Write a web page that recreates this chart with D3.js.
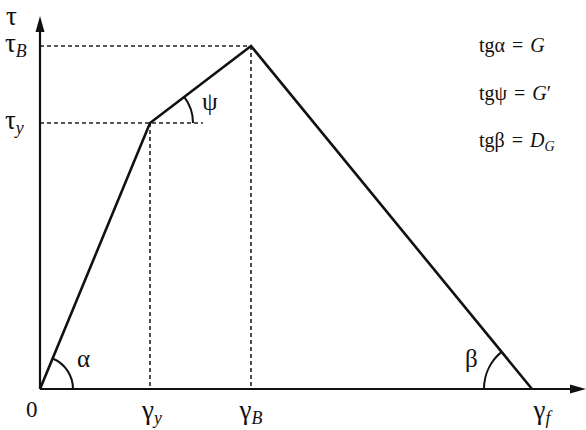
<!DOCTYPE html>
<html>
<head>
<meta charset="utf-8">
<script src="https://cdn.jsdelivr.net/npm/d3@7"></script>
</head>
<body style="margin:0">
<script>
// Strain coordinates of the characteristic points
const gammaPoints = [0, 1.10, 2.11, 4.92];
// Stress coordinates of the same points
const tauPoints = [0, 2.66, 3.43, 0];
// Axis tick labels (strain)
const gammaLabels = [
  { v: 1.10, base: "γ", sub: "y", shift: 0 },
  { v: 2.11, base: "γ", sub: "B", shift: -2 },
  { v: 4.92, base: "γ", sub: "f", shift: 8 }
];
// Axis tick labels (stress)
const tauLabels = [
  { v: 3.43, base: "τ", sub: "B" },
  { v: 2.66, base: "τ", sub: "y" }
];
// Slope definitions
const formulas = [
  { lhs: "tgα", rhs: "G", sub: "", prime: false },
  { lhs: "tgψ", rhs: "G", sub: "", prime: true },
  { lhs: "tgβ", rhs: "D", sub: "G", prime: false }
];

const svg = d3.select("body").append("svg")
  .attr("width", 586).attr("height", 430)
  .style("display", "block");
const x = d3.scaleLinear().domain([0, 5.44]).range([40, 584]);
const y = d3.scaleLinear().domain([0, 3.72]).range([389, 17]);

const pts = gammaPoints.map((g, i) => [x(g), y(tauPoints[i])]);
const [p0, pY, pB, pF] = pts;

// Dashed guide lines
const guides = [
  [[x(0), pB[1]], pB],
  [pB, [pB[0], y(0)]],
  [[x(0), pY[1]], [pY[0] + 53, pY[1]]],
  [pY, [pY[0], y(0)]]
];
svg.append("g").selectAll("line").data(guides).join("line")
  .attr("x1", d => d[0][0]).attr("y1", d => d[0][1])
  .attr("x2", d => d[1][0]).attr("y2", d => d[1][1])
  .attr("stroke", "#222").attr("stroke-width", 1.6)
  .attr("stroke-dasharray", "4,3");

// Axes with arrow heads
svg.append("line").attr("x1", x(0)).attr("y1", y(0)).attr("x2", x(0)).attr("y2", 28)
  .attr("stroke", "#111").attr("stroke-width", 2.2);
svg.append("line").attr("x1", x(0)).attr("y1", y(0)).attr("x2", 574).attr("y2", y(0))
  .attr("stroke", "#111").attr("stroke-width", 2.2);
svg.append("path").attr("d", `M${x(0)},16 L${x(0) - 4.5},32 L${x(0) + 4.5},32 Z`).attr("fill", "#111");
svg.append("path").attr("d", `M586,${y(0)} L570,${y(0) - 4.5} L570,${y(0) + 4.5} Z`).attr("fill", "#111");

// Stress-strain polyline
svg.append("path")
  .attr("d", d3.line()(pts))
  .attr("fill", "none").attr("stroke", "#111").attr("stroke-width", 2.6)
  .attr("stroke-linejoin", "miter");

// Angle arcs
function arcPath(c, r, a0, a1) {
  const sx = c[0] + r * Math.cos(a0), sy = c[1] - r * Math.sin(a0);
  const ex = c[0] + r * Math.cos(a1), ey = c[1] - r * Math.sin(a1);
  return `M${sx},${sy} A${r},${r} 0 0 ${a1 > a0 ? 0 : 1} ${ex},${ey}`;
}
const ang = (a, b) => Math.atan2(a[1] - b[1], b[0] - a[0]);
const arcs = [
  { c: p0, r: 33, a0: 0, a1: ang(p0, pY) },
  { c: pY, r: 43, a0: 0, a1: ang(pY, pB) },
  { c: pF, r: 48, a0: Math.PI, a1: ang(pF, pB) }
];
svg.append("g").selectAll("path").data(arcs).join("path")
  .attr("d", d => arcPath(d.c, d.r, d.a0, d.a1))
  .attr("fill", "none").attr("stroke", "#111").attr("stroke-width", 2);

function txt(px, py, size, anchor) {
  return svg.append("text").attr("x", px).attr("y", py)
    .attr("font-size", size)
    .attr("font-family", "Liberation Serif")
    .style("font-family", '"Liberation Serif"')
    .attr("text-anchor", anchor || "start")
    .attr("fill", "#111");
}

// Angle labels
txt(77, 367, 25).text("α");
txt(202, 110, 25).text("ψ");
txt(465, 367, 25).text("β");

// Subscripted label helper
function subLabel(px, py, base, sub, size, anchor) {
  const t = txt(px, py, size, anchor);
  t.append("tspan").text(base);
  t.append("tspan").attr("dy", size * 0.2).attr("font-size", size * 0.66)
    .style("font-style", "italic").text(sub);
  return t;
}

// Axis labels
txt(6, 25, 27).text("τ");
txt(26, 417, 23).text("0");
gammaLabels.forEach(d => subLabel(x(d.v) + 2 + d.shift, 419, d.base, d.sub, 27, "middle"));
tauLabels.forEach(d => subLabel(5, y(d.v) + 6, d.base, d.sub, 27));

// Slope formulas
formulas.forEach((f, i) => {
  const t = txt(479, 52 + i * 47.5, 20);
  t.append("tspan").text(f.lhs);
  t.append("tspan").attr("dx", 7).text("=");
  t.append("tspan").attr("dx", 7).style("font-style", "italic").text(f.rhs);
  if (f.prime) t.append("tspan").text("′");
  if (f.sub) t.append("tspan").attr("dy", 4).attr("font-size", 14).style("font-style", "italic").text(f.sub);
});
</script>
</body>
</html>
